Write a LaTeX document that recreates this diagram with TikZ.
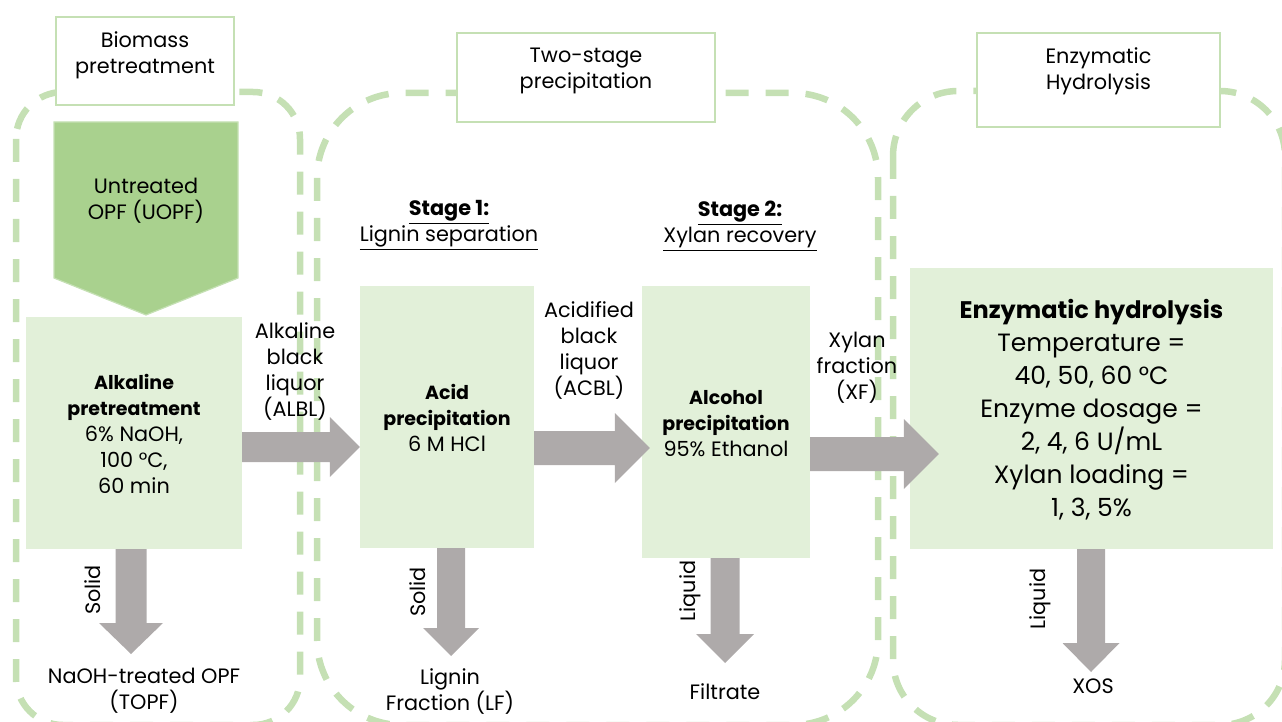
\documentclass[tikz,border=0pt]{standalone}
\usepackage{fontspec}
\setmainfont{Poppins}
\usetikzlibrary{calc}
\definecolor{dashgreen}{HTML}{C5E0B4}
\definecolor{boxgreen}{HTML}{E2F0D9}
\definecolor{feedgreen}{HTML}{A9D18E}
\definecolor{arrowgray}{HTML}{AEAAAA}

% block arrow pointing right: start, tip, shaft half-width, head half-width, head length
\newcommand\blockright[5]{%
  \fill[arrowgray] ($(#1)+(0,-#3)$) -- ($(#2)+(-#5,-#3)$) -- ($(#2)+(-#5,-#4)$) -- (#2)
    -- ($(#2)+(-#5,#4)$) -- ($(#2)+(-#5,#3)$) -- ($(#1)+(0,#3)$) -- cycle;}
% block arrow pointing down: start, tip, shaft half-width, head half-width, head length
\newcommand\blockdown[5]{%
  \fill[arrowgray] ($(#1)+(-#3,0)$) -- ($(#2)+(-#3,-#5)$) -- ($(#2)+(-#4,-#5)$) -- (#2)
    -- ($(#2)+(#4,-#5)$) -- ($(#2)+(#3,-#5)$) -- ($(#1)+(#3,0)$) -- cycle;}
\newcommand\ulined[1]{\vtop{\hbox{#1}\kern2pt\hrule height 1.2pt}}
% bold step title inside a process box
\newcommand\steptitle[1]{{\fontsize{19}{26}\selectfont\bfseries #1}}

\begin{document}
\begin{tikzpicture}[x=1pt,y=-1pt,
  zone/.style={draw=dashgreen,line width=6.5pt,dash pattern=on 23pt off 17pt},
  tagbox/.style={draw=dashgreen,line width=1.6pt,fill=white,inner sep=0pt},
  procbox/.style={fill=boxgreen,inner sep=0pt},
  txt/.style={align=center,inner sep=0pt,font=\fontsize{20.8}{26}\selectfont},
  bigtxt/.style={align=center,inner sep=0pt,font=\fontsize{25}{33}\selectfont},
  side/.style={txt,rotate=90}]
\useasboundingbox (0,0) rectangle (1282,722);

% dashed stage zones
\begin{scope}
  \clip (0,0) rectangle (1282,722);
  \draw[zone,rounded corners=47pt] (16,92) rectangle (300,725);
  \draw[zone,rounded corners=85pt] (317,93) rectangle (878,725);
  \draw[zone,rounded corners=65pt] (893,91) rectangle (1285,725);
\end{scope}

% stage titles
\node[tagbox,minimum width=178pt,minimum height=88pt] (tagA) at (145,61) {};
\node[txt] (tagAtxt) at (145,55) {Biomass\\pretreatment};
\node[tagbox,minimum width=258pt,minimum height=89pt] (tagB) at (586,77.5) {};
\node[txt] (tagBtxt) at (586,70.5) {Two-stage\\precipitation};
\node[tagbox,minimum width=243pt,minimum height=94pt] (tagC) at (1098.5,80) {};
\node[txt] (tagCtxt) at (1098.5,71) {Enzymatic\\Hydrolysis};

% raw material
\path[fill=feedgreen,draw=dashgreen,line width=1.2pt]
  (54,122) -- (238,122) -- (238,278) -- (146,315) -- (54,278) -- cycle;
\node[txt] (uopf) at (146,201) {Untreated\\OPF (UOPF)};

% process steps
\node[procbox,minimum width=216pt,minimum height=232pt] (alk) at (134,433) {};
\node[procbox,minimum width=174pt,minimum height=262pt] (acid) at (447,417) {};
\node[procbox,minimum width=168pt,minimum height=272pt] (alc) at (726,422) {};
\node[procbox,minimum width=363pt,minimum height=281pt] (enz) at (1091.5,408.5) {};

% main flow
\coordinate (a1s) at (alk.east |- 0,447);
\coordinate (a1t) at (acid.west |- 0,447);
\coordinate (a2s) at (acid.east |- 0,448);
\coordinate (a2t) at ($(alc.west |- 0,448)+(8,0)$);
\coordinate (a3s) at (alc.east |- 0,454);
\coordinate (a3t) at ($(enz.west |- 0,454)+(29,0)$);
\blockright{a1s}{a1t}{15}{30}{30}
\blockright{a2s}{a2t}{17}{35}{35}
\blockright{a3s}{a3t}{17}{35}{35}

% side streams
\coordinate (d1s) at (alk.south -| 131,0);   \coordinate (d1t) at (131,654);
\coordinate (d2s) at (acid.south -| 451,0);  \coordinate (d2t) at (451,656);
\coordinate (d3s) at (alc.south -| 725,0);   \coordinate (d3t) at (725,663);
\coordinate (d4s) at (enz.south -| 1091,0);  \coordinate (d4t) at (1091,672);
\blockdown{d1s}{d1t}{15.5}{32}{31}
\blockdown{d2s}{d2t}{14}{28}{28}
\blockdown{d3s}{d3t}{14.5}{29}{29}
\blockdown{d4s}{d4t}{14}{28.5}{29}

% box contents
\node[txt] (alktxt) at (134,434) {\steptitle{Alkaline}\\\steptitle{pretreatment}\\6\% NaOH,\\100 °C,\\60 min};
\node[txt] (acidtxt) at (447,418) {\steptitle{Acid}\\\steptitle{precipitation}\\6 M HCl};
\node[txt] (alctxt) at (726,424) {\steptitle{Alcohol}\\\steptitle{precipitation}\\95\% Ethanol};
\node[bigtxt] (enztxt) at (1091.5,410) {{\fontsize{24}{33}\selectfont\bfseries Enzymatic hydrolysis}\\Temperature =\\40, 50, 60 °C\\Enzyme dosage =\\2, 4, 6 U/mL\\Xylan loading =\\1, 3, 5\%};

% stage headings
\node[txt] (st1) at (449,225) {\ulined{\textbf{Stage 1:}}\\\ulined{Lignin separation}};
\node[txt] (st2) at (740,226) {\ulined{\textbf{Stage 2:}}\\\ulined{Xylan recovery}};

% stream labels
\node[txt] (albl) at (295,372) {Alkaline\\black\\liquor\\(ALBL)};
\node[txt] (acbl) at (589,350) {Acidified\\black\\liquor\\(ACBL)};
\node[txt] (xf) at (857,368) {Xylan\\fraction\\(XF)};
\node[side] (s1) at (93,590) {Solid};
\node[side] (s2) at (418,592) {Solid};
\node[side] (l1) at (690,591) {Liquid};
\node[side] (l2) at (1040,599) {Liquid};

% products
\node[txt] (topf) at (144,691) {NaOH-treated OPF\\(TOPF)};
\node[txt] (lf) at (450,692) {Lignin\\Fraction (LF)};
\node[txt] (filt) at (725,692) {Filtrate};
\node[txt] (xos) at (1093,686) {XOS};
\end{tikzpicture}
\end{document}
